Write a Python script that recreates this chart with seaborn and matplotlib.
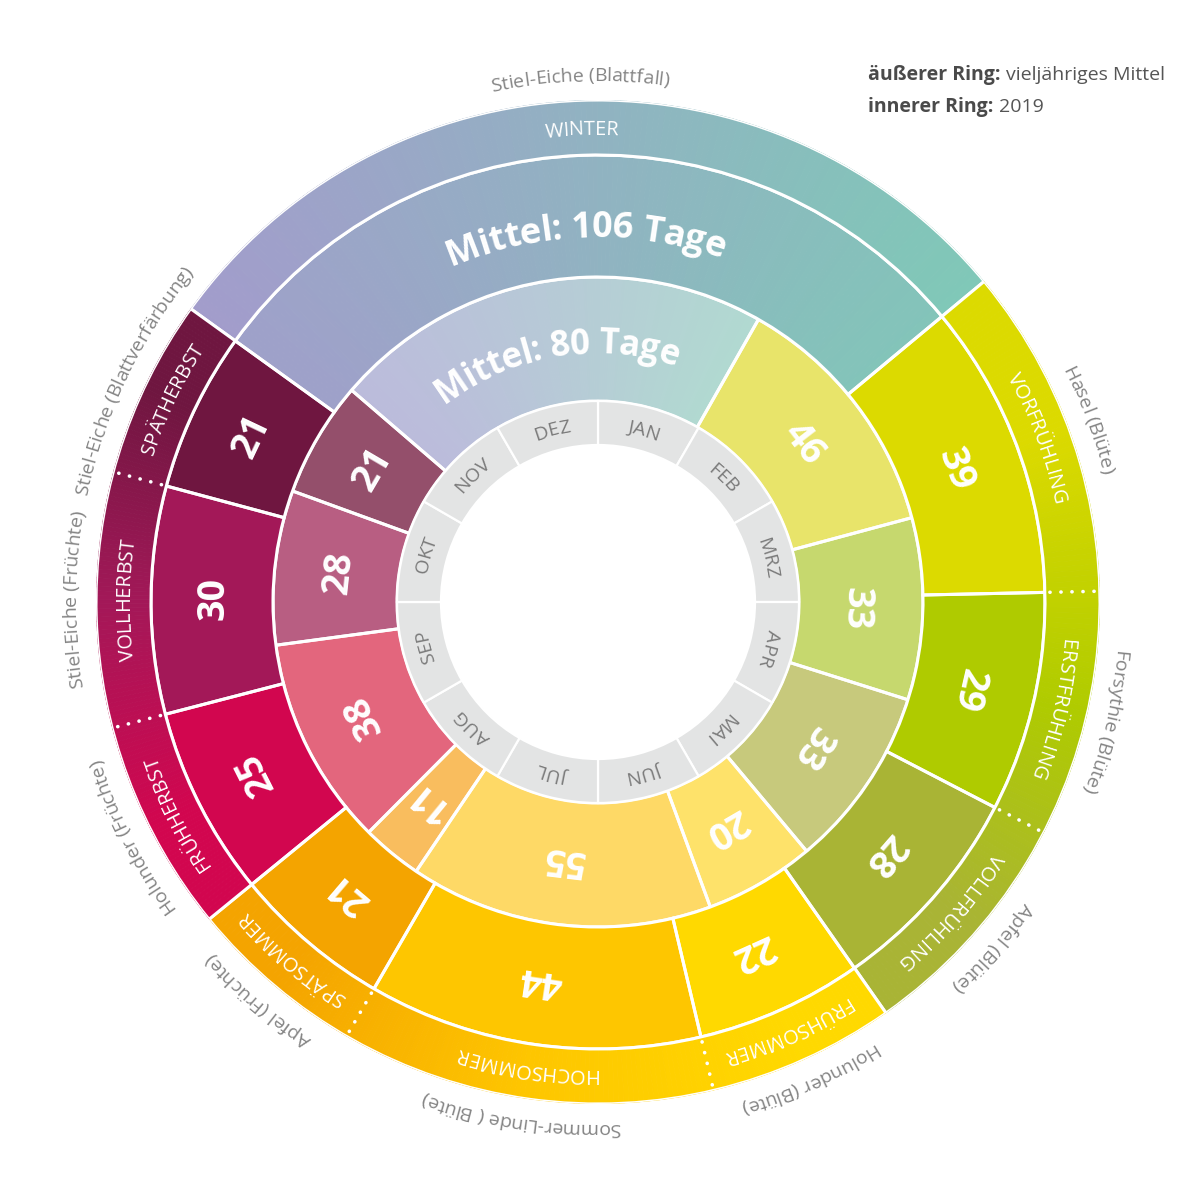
import numpy as np
import matplotlib
matplotlib.use("Agg")
import matplotlib.pyplot as plt
import seaborn as sns
from matplotlib.font_manager import FontProperties, findfont, get_font
from matplotlib.colors import to_rgb
try:
    from matplotlib.backends.backend_agg import get_hinting_flag
    HINT = get_hinting_flag()
except Exception:  # pragma: no cover
    HINT = 0

# ------------------------------------------------------------------ data
seasons = ["WINTER", "VORFRÜHLING", "ERSTFRÜHLING", "VOLLFRÜHLING", "FRÜHSOMMER",
           "HOCHSOMMER", "SPÄTSOMMER", "FRÜHHERBST", "VOLLHERBST", "SPÄTHERBST"]
season_group = ["winter", "spring", "spring", "spring", "summer",
                "summer", "summer", "autumn", "autumn", "autumn"]
mean_days = [106, 39, 29, 28, 22, 44, 21, 25, 30, 21]      # outer ring: multi-year mean
days_2019 = [80, 46, 33, 33, 20, 55, 11, 38, 28, 21]       # inner ring: 2019
mean_start = -55      # day of year on which winter begins (outer ring), negative = previous year
start_2019 = -50      # day of year on which winter begins (inner ring)
indicators = ["Stiel-Eiche (Blattfall)", "Hasel (Blüte)", "Forsythie (Blüte)", "Apfel (Blüte)",
              "Holunder (Blüte)", "Sommer-Linde ( Blüte)", "Apfel (Früchte)", "Holunder (Früchte)",
              "Stiel-Eiche (Früchte)", "Stiel-Eiche (Blattverfärbung)"]
months = ["JAN", "FEB", "MRZ", "APR", "MAI", "JUN", "JUL", "AUG", "SEP", "OKT", "NOV", "DEZ"]
winter_label_outer = "Mittel: 106 Tage"
winter_label_inner = "Mittel: 80 Tage"
legend_lines = [("äußerer Ring: ", "vieljähriges Mittel"), ("innerer Ring: ", "2019")]

# ------------------------------------------------------------------ style
outer_colors = ["#A39BCC", "#DCDA00", "#AFCB00", "#A9B435", "#FFD900",
                "#FEC600", "#F4A400", "#D2064F", "#A31858", "#6F1640"]
inner_colors = ["#BDB7DD", "#E8E46A", "#C6D86E", "#C7C97C", "#FEE26A",
                "#FED966", "#F9BD5E", "#E3667D", "#B85E82", "#944F6B"]
winter_outer_grad = ["#A39BCC", "#7FC9B7"]
winter_inner_grad = ["#BDB7DD", "#B0DCD0"]
month_color = "#E3E4E4"
grey_text = "#858585"

sns.set_theme(style="white")
FONT = ["Open Sans", "DejaVu Sans"]
plt.rcParams["font.family"] = FONT

DPI = 100
R_HOLE, R_MON, R_IN, R_OUT, R_BAND = 157, 201, 325, 447, 502
K = 2 * np.pi / 365.0
LW = 2.2

fig = plt.figure(figsize=(12, 12.01), dpi=DPI, facecolor="white")
ax = fig.add_axes([96 / 1200, 97 / 1201, 1004 / 1200, 1004 / 1201], projection="polar")
ax.set_theta_zero_location("N")
ax.set_theta_direction(-1)
ax.set_ylim(0, R_BAND)
ax.set_axis_off()


def bounds(start, lengths):
    e = start + np.concatenate([[0], np.cumsum(lengths)])
    return e[:-1], e[1:]


o0, o1 = bounds(mean_start, mean_days)
i0, i1 = bounds(start_2019, days_2019)

groups = []
for k, g in enumerate(season_group):
    if groups and season_group[groups[-1][0]] == g:
        groups[-1].append(k)
    else:
        groups.append([k])


def hgrad(d0, d1, r0, r1, cols, xmin, xmax, n=160):
    pal = np.array(sns.blend_palette(cols, n_colors=256))
    e = np.linspace(d0, d1, n + 1)
    mids = (e[:-1] + e[1:]) / 2
    x = np.sin(mids * K) * (r0 + r1) / 2
    t = np.clip((x - xmin) / (xmax - xmin), 0, 1)
    c = pal[np.round(t * 255).astype(int)]
    ax.bar(e[:-1] * K, r1 - r0, width=np.diff(e) * K, bottom=r0, align="edge",
           color=c, edgecolor=c, linewidth=0.6)


# ---- inner ring (2019)
xi0, xi1 = R_IN * np.sin(i0[0] * K), R_IN * np.sin(i1[0] * K)
hgrad(i0[0], i1[0], R_MON, R_IN, winter_inner_grad, xi0, xi1)
ax.bar(i0[1:] * K, R_IN - R_MON, width=(i1[1:] - i0[1:]) * K, bottom=R_MON, align="edge",
       color=inner_colors[1:], linewidth=0)
ax.bar(i0 * K, R_IN - R_MON, width=(i1 - i0) * K, bottom=R_MON, align="edge",
       facecolor="none", edgecolor="white", linewidth=LW)

# ---- outer ring (mean)
xo0, xo1 = R_BAND * np.sin(o0[0] * K), R_BAND * np.sin(o1[0] * K)
hgrad(o0[0], o1[0], R_IN, R_OUT, winter_outer_grad, xo0, xo1)
ax.bar(o0[1:] * K, R_OUT - R_IN, width=(o1[1:] - o0[1:]) * K, bottom=R_IN, align="edge",
       color=outer_colors[1:], linewidth=0)
ax.bar(o0 * K, R_OUT - R_IN, width=(o1 - o0) * K, bottom=R_IN, align="edge",
       facecolor="none", edgecolor="white", linewidth=LW)

# ---- season band
for g in groups:
    a0, a1 = o0[g[0]], o1[g[-1]]
    if len(g) == 1:
        hgrad(a0, a1, R_OUT, R_BAND, winter_outer_grad, xo0, xo1)
    else:
        n = 150
        e = np.linspace(a0, a1, n + 1)
        mids = (e[:-1] + e[1:]) / 2
        centers = [(o0[k] + o1[k]) / 2 for k in g]
        rgb = np.array([to_rgb(outer_colors[k]) for k in g])
        c = np.stack([np.interp(mids, centers, rgb[:, j]) for j in range(3)], axis=1)
        ax.bar(e[:-1] * K, R_BAND - R_OUT, width=np.diff(e) * K, bottom=R_OUT, align="edge",
               color=c, edgecolor=c, linewidth=0.6)
    ax.bar(a0 * K, R_BAND - R_OUT, width=(a1 - a0) * K, bottom=R_OUT, align="edge",
           facecolor="none", edgecolor="white", linewidth=LW)
    for k in g[:-1]:
        th = o1[k] * K
        ax.plot([th, th], [R_OUT + 5, R_BAND - 3], color="white", lw=2.6,
                linestyle=(0, (0.05, 3.0)), dash_capstyle="round")

# ---- month ring
mth = np.radians(np.arange(12) * 30)
ax.bar(mth, R_MON - R_HOLE, width=np.radians(30), bottom=R_HOLE, align="edge",
       color=month_color, edgecolor="white", linewidth=1.6)


# ------------------------------------------------------------------ text helpers
def _font(fp):
    font = get_font(findfont(fp))
    font.clear()
    font.set_size(fp.get_size_in_points(), DPI)
    return font


def advances(s, fp):
    font = _font(fp)
    return np.array([font.load_char(ord(ch), flags=HINT).linearHoriAdvance / 65536.0
                     for ch in s])


def ink(s, fp):
    font = _font(fp)
    font.set_text(s, 0.0, flags=HINT)
    w, _ = font.get_width_height()
    xo, _ = font.get_bitmap_offset()
    return w / 64.0, xo / 64.0


def place(s, phi, r, fp, color):
    """Put string s so that its advance box is centred on the baseline point (phi, r)."""
    adv = advances(s, fp).sum()
    W, xo = ink(s, fp)
    ux, uy = np.cos(phi), -np.sin(phi)
    px, py = r * np.sin(phi), r * np.cos(phi)
    k = xo + W / 2 - adv / 2
    qx, qy = px + ux * k - xo, py + uy * k
    ax.text(np.arctan2(qx, qy), np.hypot(qx, qy), s, rotation=-np.degrees(phi),
            rotation_mode="anchor", ha="center", va="baseline", fontproperties=fp, color=color)


def curved(s, theta_c, r_c, fs, color, weight="normal"):
    fp = FontProperties(family=FONT, weight=weight, size=fs)
    adv = advances(s, fp)
    em = fs * DPI / 72.0
    r_base = r_c - 0.36 * em
    r_track = r_base + 0.3 * em
    offs = np.cumsum(adv) - adv / 2 - adv.sum() / 2
    for ch, off in zip(s, offs):
        if ch == " ":
            continue
        place(ch, theta_c + off / r_track, r_base, fp, color)


def straight(s, theta_c, r_c, fs, color, weight="bold"):
    fp = FontProperties(family=FONT, weight=weight, size=fs)
    em = fs * DPI / 72.0
    place(s, theta_c, r_c - 0.357 * em, fp, color)


# month names
for m, name in enumerate(months):
    curved(name, np.radians(m * 30 + 15), (R_HOLE + R_MON) / 2, 14, "#7B7B7B")

# numbers / winter labels / season names / indicator plants
for k in range(len(seasons)):
    ci = (i0[k] + i1[k]) / 2 * K
    co = (o0[k] + o1[k]) / 2 * K
    if k == 0:
        curved(winter_label_inner, ci, (R_MON + R_IN) / 2 - 2, 25, "white", weight="bold")
        curved(winter_label_outer, co, (R_IN + R_OUT) / 2 - 8, 26, "white", weight="bold")
    else:
        straight(str(days_2019[k]), ci, (R_MON + R_IN) / 2, 27, "white")
        straight(str(mean_days[k]), co, (R_IN + R_OUT) / 2, 27, "white")
    curved(seasons[k], co, (R_OUT + R_BAND) / 2, 14.5, "white")
    curved(indicators[k], co, R_BAND + 26, 14, grey_text)

# legend
for row, (bold, rest) in enumerate(legend_lines):
    y = 1 - (80 + row * 32) / 1201
    x = 868 / 1200
    fpb = FontProperties(family=FONT, weight="bold", size=14)
    fig.text(x, y, bold, fontproperties=fpb, color="#4A4A4A", ha="left", va="baseline")
    w = advances(bold, fpb).sum() / 1200
    fig.text(x + w, y, rest, fontsize=14, color="#555555", ha="left", va="baseline")

fig.savefig("out.png", dpi=DPI, facecolor="white")
